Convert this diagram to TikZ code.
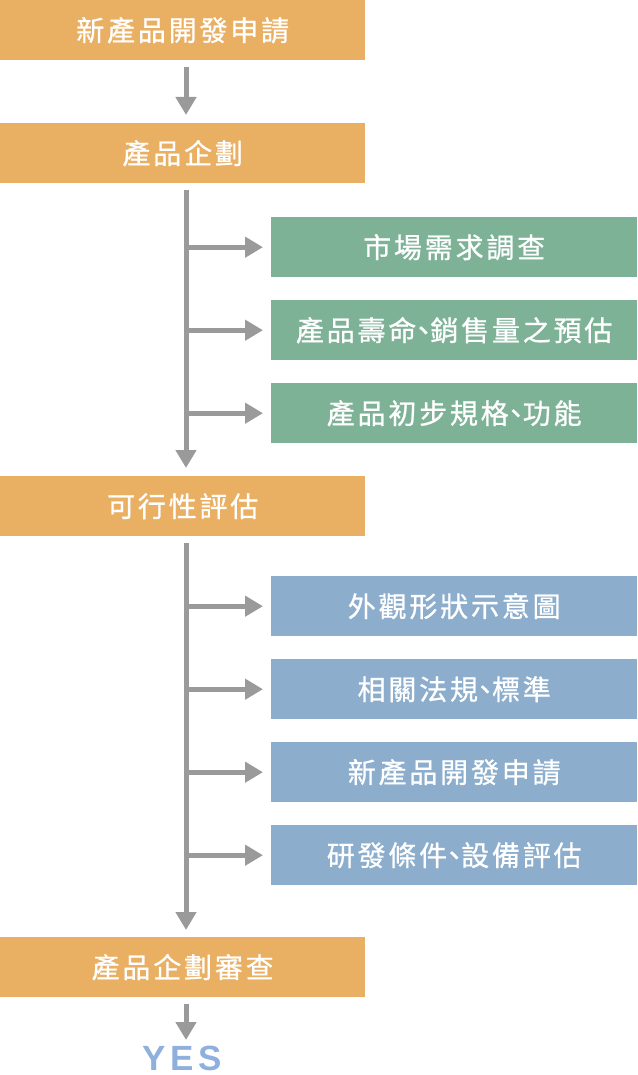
\documentclass[tikz,border=0pt]{standalone}
\usepackage{fontspec}
\usetikzlibrary{arrows.meta,calc}
\newfontfamily\cjk[LetterSpace=10,FakeBold=0.8]{Noto Sans CJK TC}
\newfontfamily\yesfont[LetterSpace=14]{Liberation Sans}
\newcommand\dunhao{\kern-7pt、\kern-7pt}
\definecolor{boxorange}{HTML}{E9B063}
\definecolor{boxgreen}{HTML}{7DB297}
\definecolor{boxblue}{HTML}{8CAECC}
\definecolor{arrgray}{HTML}{9A9A9A}
\definecolor{yesblue}{HTML}{8FB0DD}
\tikzset{
  basebox/.style={rectangle, inner sep=0pt, anchor=north west, text=white,
    font=\cjk\fontsize{28}{32}\selectfont},
  mainbox/.style={basebox, fill=boxorange, minimum width=365pt, minimum height=60pt},
  greenbox/.style={basebox, fill=boxgreen, minimum width=366pt, minimum height=60pt},
  bluebox/.style={basebox, fill=boxblue, minimum width=366pt, minimum height=60pt},
  flow/.style={draw=arrgray, line width=5pt, -{Triangle[width=20pt,length=18pt]}},
}
\begin{document}
\begin{tikzpicture}[x=1pt,y=-1pt]
\useasboundingbox (0,0) rectangle (637,1075);
% main boxes
\node[mainbox] (m1) at (0,0) {新產品開發申請};
\node[mainbox] (m2) at (0,123) {產品企劃};
\node[mainbox] (m3) at (0,476) {可行性評估};
\node[mainbox] (m4) at (0,937) {產品企劃審查};
\node[font=\yesfont\bfseries\fontsize{35}{40}\selectfont, text=yesblue, inner sep=0pt, text depth=0pt, anchor=base] (yes) at (182,1070.5) {YES};
% green boxes
\node[greenbox] (g1) at (271,217) {市場需求調查};
\node[greenbox] (g2) at (271,300) {產品壽命\dunhao 銷售量之預估};
\node[greenbox] (g3) at (271,383) {產品初步規格\dunhao 功能};
% blue boxes
\node[bluebox] (b1) at (271,576) {外觀形狀示意圖};
\node[bluebox] (b2) at (271,659) {相關法規\dunhao 標準};
\node[bluebox] (b3) at (271,742) {新產品開發申請};
\node[bluebox] (b4) at (271,825) {研發條件\dunhao 設備評估};
% spine coordinates
\coordinate (s1) at (186,67);
\coordinate (t1) at (186,115);
\coordinate (s2) at (186,190);
\coordinate (t2) at (186,468);
\coordinate (s3) at (186,543);
\coordinate (t3) at (186,930);
\coordinate (s4) at (186,1004);
\coordinate (t4) at (186,1040);
% vertical arrows
\draw[flow] (s1) -- (t1);
\draw[flow] (s2) -- (t2);
\draw[flow] (s3) -- (t3);
\draw[flow] (s4) -- (t4);
% branch arrows
\foreach \n in {g1,g2,g3}{
  \draw[flow, shorten >=8pt] (s2 |- \n.west) -- (\n.west);
}
\foreach \n in {b1,b2,b3,b4}{
  \draw[flow, shorten >=8pt] (s3 |- \n.west) -- (\n.west);
}
\end{tikzpicture}
\end{document}
